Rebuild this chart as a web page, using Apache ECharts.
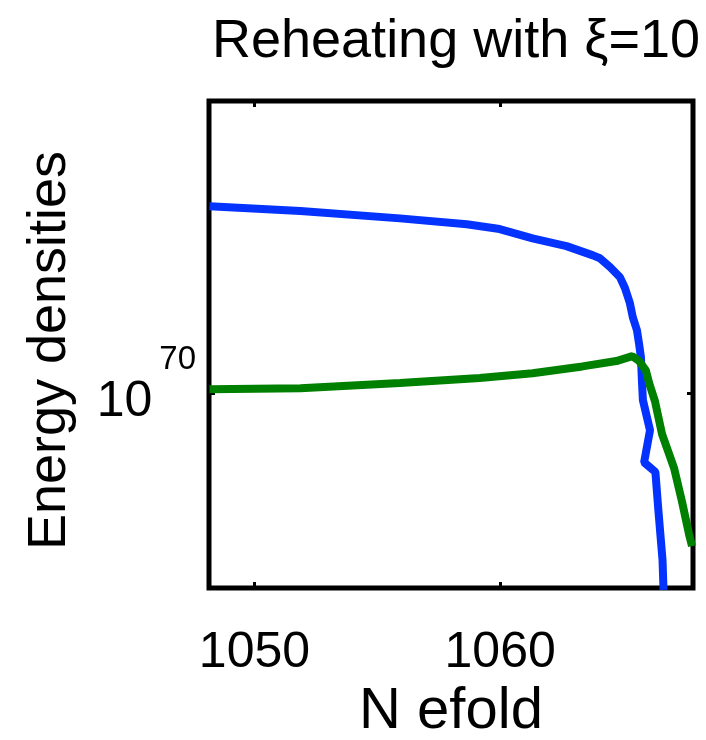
<!DOCTYPE html>
<html>
<head>
<meta charset="utf-8">
<script src="https://cdn.jsdelivr.net/npm/echarts@6/dist/echarts.min.js"></script>
<style>
  html, body { margin: 0; padding: 0; background: #fff; }
  #chart { width: 706px; height: 740px; }
</style>
</head>
<body>
<div id="chart"></div>
<script>
// N efold values and log10 of the energy densities
const blueN = [1048.17, 1051.87, 1055.92, 1058.64, 1059.98, 1061.32, 1062.70, 1063.78, 1064.06,
  1064.47, 1064.88, 1065.08, 1065.28, 1065.40, 1065.57, 1065.65, 1065.73, 1065.77, 1065.81,
  1066.10, 1065.86, 1066.32, 1066.44, 1066.61, 1066.65];
const blueLog = [70.384, 70.374, 70.359, 70.347, 70.337, 70.318, 70.302, 70.283, 70.277,
  70.259, 70.238, 70.216, 70.185, 70.156, 70.129, 70.103, 70.074, 70.027, 69.986,
  69.924, 69.858, 69.838, 69.760, 69.657, 69.596];

const greenN = [1048.17, 1051.87, 1055.92, 1059.17, 1061.32, 1063.35, 1064.73, 1065.38, 1065.66,
  1065.93, 1066.07, 1066.30, 1066.59, 1067.08, 1067.40, 1067.69, 1067.81];
const greenLog = [70.008, 70.010, 70.021, 70.031, 70.041, 70.055, 70.066, 70.076, 70.066,
  70.047, 70.020, 69.984, 69.916, 69.846, 69.778, 69.710, 69.686];

const xTicks = [1050, 1060];
const yTicks = [70];

const font = 'Liberation Sans, Arial, Helvetica, sans-serif';

const chart = echarts.init(document.getElementById('chart'));

const pairs = (xs, ys) => xs.map((x, i) => [x, ys[i]]);

const xCommon = {
  type: 'value',
  min: 1048.15,
  max: 1067.85,
  axisLine: { show: false },
  splitLine: { show: false },
  axisTick: {
    show: true,
    inside: true,
    length: 6,
    customValues: xTicks,
    lineStyle: { color: '#000', width: 3 }
  }
};

const yCommon = {
  type: 'value',
  min: 69.6,
  max: 70.6,
  axisLine: { show: false },
  splitLine: { show: false },
  axisTick: {
    show: true,
    inside: true,
    length: 6,
    customValues: yTicks,
    lineStyle: { color: '#000', width: 3 }
  }
};

const option = {
  backgroundColor: '#fff',
  animation: false,
  title: {
    text: 'Reheating with ξ=10',
    left: 451,
    top: 10,
    textAlign: 'center',
    textStyle: { fontFamily: font, fontSize: 54, fontWeight: 'normal', color: '#000' }
  },
  grid: {
    left: 209,
    right: 13,
    top: 101,
    bottom: 152,
    outerBoundsMode: 'none',
    show: true,
    borderColor: '#000',
    borderWidth: 5,
    backgroundColor: '#fff'
  },
  xAxis: [
    Object.assign({}, xCommon, {
      position: 'bottom',
      name: 'N efold',
      nameLocation: 'middle',
      nameGap: 78,
      nameTextStyle: { fontFamily: font, fontSize: 58, color: '#000' },
      axisLabel: {
        customValues: xTicks,
        margin: 40,
        formatter: (v) => String(v),
        fontFamily: font,
        fontSize: 50,
        color: '#000'
      }
    }),
    Object.assign({}, xCommon, {
      position: 'top',
      axisLabel: { show: false }
    })
  ],
  yAxis: [
    Object.assign({}, yCommon, {
      position: 'left',
      name: 'Energy densities',
      nameLocation: 'middle',
      nameRotate: 90,
      nameGap: 132,
      nameTextStyle: { fontFamily: font, fontSize: 54, color: '#000', padding: [0, 12, 0, 0] },
      axisLabel: {
        customValues: yTicks,
        margin: 13,
        padding: [0, 0, 22, 0],
        formatter: (v) => '{b|10}{s|' + Math.round(v) + '}',
        rich: {
          b: { fontFamily: font, fontSize: 50, color: '#000', lineHeight: 90, verticalAlign: 'bottom' },
          s: { fontFamily: font, fontSize: 33, color: '#000', lineHeight: 90, verticalAlign: 'top', padding: [6, 0, 0, 7] }
        }
      }
    }),
    Object.assign({}, yCommon, {
      position: 'right',
      axisLabel: { show: false }
    })
  ],
  series: [
    {
      type: 'line',
      data: pairs(blueN, blueLog),
      showSymbol: false,
      symbol: 'none',
      color: '#0433ff',
      lineStyle: { color: '#0433ff', width: 8 },
      clip: true,
      z: 2
    },
    {
      type: 'line',
      data: pairs(greenN, greenLog),
      showSymbol: false,
      symbol: 'none',
      color: '#008000',
      lineStyle: { color: '#008000', width: 8 },
      clip: true,
      z: 3
    }
  ]
};

chart.setOption(option);
</script>
</body>
</html>
